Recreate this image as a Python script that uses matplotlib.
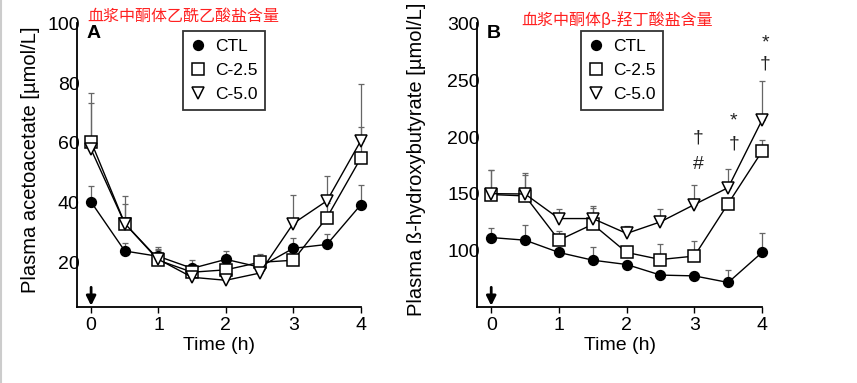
import matplotlib.pyplot as plt
from matplotlib.lines import Line2D

plt.rcParams['font.family'] = ['Liberation Sans', 'DejaVu Sans']

# tiempo (h)
hours = [0, 0.5, 1, 1.5, 2, 2.5, 3, 3.5, 4]
groups = ['CTL', 'C-2.5', 'C-5.0']

# panel A: acetoacetato [umol/L] y error (solo hacia arriba)
aa_ctl = [40.2, 23.8, 22.0, 18.0, 21.0, 18.4, 24.7, 26.0, 39.2]
aa_ctl_err = [5.5, 2.8, 2.5, 2.7, 2.7, 2.0, 3.3, 3.6, 6.8]
aa_c25 = [60.4, 33.0, 20.7, 16.7, 17.5, 20.0, 20.7, 35.0, 54.8]
aa_c25_err = [16.2, 9.1, 4.5, 2.0, 2.0, 2.7, 1.5, 5.0, 10.4]
aa_c50 = [57.8, 33.0, 21.0, 15.0, 14.0, 16.4, 33.0, 40.6, 60.6]
aa_c50_err = [15.7, 6.7, 3.0, 1.5, 1.5, 1.5, 9.7, 8.3, 19.1]

# panel B: beta-hidroxibutirato [umol/L]
bhb_ctl = [111.7, 109.4, 98.6, 91.8, 88.0, 78.7, 78.0, 72.2, 98.6]
bhb_ctl_err = [8.3, 13.6, 4.0, 11.7, 3.0, 3.0, 3.0, 10.8, 16.7]
bhb_c25 = [149.5, 148.3, 109.4, 123.4, 98.6, 92.4, 95.4, 141.6, 187.5]
bhb_c25_err = [22.0, 20.0, 8.0, 16.0, 5.0, 13.2, 13.0, 5.0, 10.0]
bhb_c50 = [150.3, 150.0, 128.4, 128.4, 115.3, 125.5, 140.7, 155.6, 215.0]
bhb_c50_err = [21.0, 16.4, 8.8, 9.3, 6.6, 11.7, 16.9, 16.7, 34.7]

estilos = {
    'CTL': dict(marker='o', mfc='black', ms=7),
    'C-2.5': dict(marker='s', mfc='white', ms=8.5),
    'C-5.0': dict(marker='v', mfc='white', ms=8.5),
}


def dibujar_panel(ax, series, errores, ylim, yticks, ylabel, letra, ylab_x, leg_x):
    for g, y, e in zip(groups, series, errores):
        eb = ax.errorbar(hours, y, yerr=[[0] * len(e), e], fmt='none',
                         ecolor='#666666', elinewidth=0.9, capsize=2.5,
                         capthick=0.9, zorder=1)
        for art in eb.lines[1] + eb.lines[2]:
            art.set_clip_on(False)
    for g, y in zip(groups, series):
        ax.plot(hours, y, color='black', lw=1.0, mec='black', mew=1.1,
                zorder=3, clip_on=False, **estilos[g])
    ax.set_xlim(-0.21, 4.0)
    ax.set_ylim(*ylim)
    ax.set_xticks([0, 1, 2, 3, 4])
    ax.set_yticks(yticks)
    ax.spines['top'].set_visible(False)
    ax.spines['right'].set_visible(False)
    ax.spines['left'].set_linewidth(1.3)
    ax.spines['bottom'].set_linewidth(1.3)
    ax.tick_params(axis='x', direction='out', length=4, width=1.0,
                   labelsize=14, pad=3)
    ax.tick_params(axis='y', length=0, labelsize=14, pad=-2)
    ax.set_xlabel('Time (h)', fontsize=14, labelpad=2)
    ax.set_ylabel(ylabel, fontsize=14.5)
    ax.yaxis.set_label_coords(ylab_x, 0.52)
    ax.text(0.035, 0.965, letra, transform=ax.transAxes, fontsize=14,
            fontweight='bold', va='center', ha='left')
    ax.annotate('', xy=(0, 0.005), xycoords=('data', 'axes fraction'),
                xytext=(0, 0.07), textcoords=('data', 'axes fraction'),
                arrowprops=dict(arrowstyle='-|>', color='black', lw=2.0,
                                mutation_scale=14, shrinkA=0, shrinkB=0))
    handles = [Line2D([], [], ls='none', color='black', mec='black', mew=1.1,
                      **estilos[g]) for g in groups]
    leg = ax.legend(handles, groups, loc='upper left',
                    bbox_to_anchor=(leg_x, 0.972), fontsize=12.5,
                    frameon=True, fancybox=False, edgecolor='black',
                    handletextpad=0.5, labelspacing=0.5, borderpad=0.45,
                    handlelength=0.9, borderaxespad=0)
    leg.get_frame().set_linewidth(1.3)


fig = plt.figure(figsize=(8.57, 3.83), dpi=100)
axA = fig.add_axes([0.0898, 0.198, 0.331, 0.741])
axB = fig.add_axes([0.5566, 0.198, 0.3326, 0.741])

dibujar_panel(axA, [aa_ctl, aa_c25, aa_c50], [aa_ctl_err, aa_c25_err, aa_c50_err],
              (5, 100), [20, 40, 60, 80, 100],
              'Plasma acetoacetate [µmol/L]', 'A', -0.13, 0.373)
dibujar_panel(axB, [bhb_ctl, bhb_c25, bhb_c50], [bhb_ctl_err, bhb_c25_err, bhb_c50_err],
              (50.5, 300), [100, 150, 200, 250, 300],
              'Plasma ß-hydroxybutyrate [µmol/L]', 'B', -0.18, 0.364)

# marcas de significancia
for x, y, s in [(3.06, 199, '†'), (3.06, 176, '#'), (3.58, 214, '*'),
                (3.58, 194, '†'), (4.05, 283, '*'), (4.05, 264, '†')]:
    axB.text(x, y, s, fontsize=14, ha='center', va='center', color='#222222')

fig.text(0.2135, 0.957, '血浆中酮体乙酰乙酸盐含量', color='#ff2020', fontsize=11.5,
         ha='center', va='center', family=['Noto Sans CJK SC', 'DejaVu Sans'])
fig.text(0.7204, 0.947, '血浆中酮体β-羟丁酸盐含量', color='#ff2020', fontsize=11.5,
         ha='center', va='center', family=['Noto Sans CJK SC', 'DejaVu Sans'])

fig.add_artist(Line2D([0.001, 0.001], [0, 1], color='#cccccc', lw=1.5,
                      transform=fig.transFigure))

fig.savefig('out.png', dpi=100)
